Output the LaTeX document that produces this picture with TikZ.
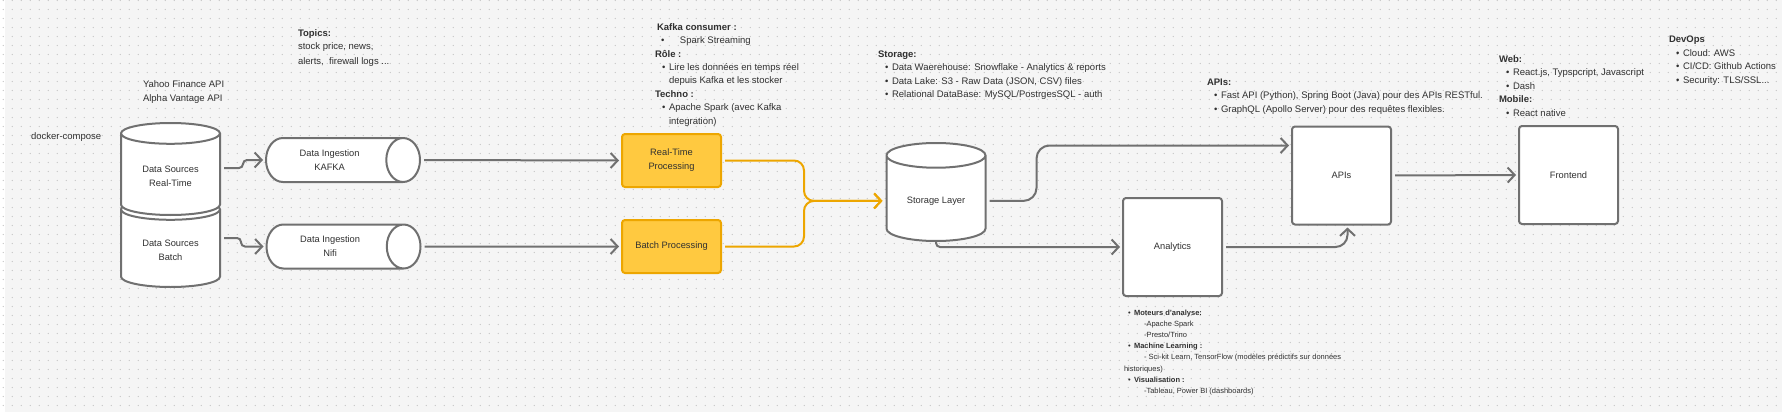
\documentclass[tikz,border=0pt]{standalone}
\usepackage{fontspec}
\setmainfont{Liberation Sans}
\usetikzlibrary{arrows.meta,shapes.geometric,calc}
\definecolor{canvas}{HTML}{F5F5F5}
\definecolor{dotgray}{HTML}{C2C2C2}
\definecolor{linegray}{HTML}{707070}
\definecolor{txt}{HTML}{303030}
\definecolor{procfill}{HTML}{FFC940}
\definecolor{procline}{HTML}{EDA600}
\newcommand\bul{\hspace*{7pt}\makebox[7pt][l]{•}}
\newcommand\sbul{\hspace*{4pt}\makebox[6pt][l]{•}}
\begin{document}
\begin{tikzpicture}[x=1pt,y=-1pt,->,>={Straight Barb[length=7pt,width=15pt]},
                    line width=2pt,text=txt,font=\fontsize{9.3}{14}\selectfont,
                    griddots/.style={-,draw=dotgray,line width=1.2pt,line cap=round,dash pattern=on 0pt off 9pt},
                    box/.style={draw=linegray,fill=white,rounded corners=3pt,minimum width=99pt,minimum height=98pt,align=center},
                    proc/.style={draw=procline,fill=procfill,rounded corners=3pt,minimum width=99pt,minimum height=53pt,align=center},
                    tank/.style={draw=linegray,fill=white,cylinder,shape border rotate=90,aspect=0.33,minimum width=99pt,
                                 anchor=shape center,align=center},
                    pipe/.style={draw=linegray,fill=white,cylinder,aspect=1.23,minimum width=44pt,minimum height=154pt,
                                 anchor=shape center,align=center},
                    link/.style={draw=linegray,shorten <=3pt,shorten >=2pt},
                    flow/.style={draw=procline,shorten <=3pt,shorten >=3pt,rounded corners=10pt},
                    note/.style={anchor=base west,align=left,inner sep=0pt,font=\fontsize{9.5}{13.5}\selectfont},
                    smallnote/.style={note,font=\fontsize{7.5}{11.1}\selectfont}]
    \useasboundingbox (0,0) rectangle (1782,412);
    \fill[canvas] (0,0) rectangle (1782,412);
    \fill[white] (0,0) rectangle (5,412);
    \foreach \r in {0,...,45}
        \draw[griddots] (3.3,9*\r+0.5) -- (1782,9*\r+0.5);

    \node[tank,minimum height=88pt] (dsbatch) at (170.5,243) {Data Sources\\Batch};
    \node[tank,minimum height=92pt] (dsrealtime) at (170.5,169) {Data Sources\\Real-Time};
    \node[pipe] (kafka) at (343,160) {Data Ingestion\\KAFKA};
    \node[pipe] (nifi) at (343.5,246.5) {Data Ingestion\\Nifi};
    \node[proc] (realtime) at (671.5,160.5) {Real-Time\\Processing};
    \node[proc] (batch) at (671.5,246.5) {Batch Processing};
    \node[tank,aspect=0.38,minimum height=98pt] (storage) at (936,192) {Storage Layer};
    \node[box] (analytics) at (1172.5,247) {Analytics};
    \node[box] (apis) at (1341.5,175.5) {APIs};
    \node[box] (frontend) at (1568.5,175) {Frontend};

    \draw[link,rounded corners=4pt] ($(dsrealtime.shape center -| dsrealtime.east)+(0,-1)$) -- ++(22,0) |- (kafka.west);
    \draw[link,rounded corners=4pt] ($(dsbatch.shape center -| dsbatch.east)+(0,-5)$) -- ++(20,0) |- (nifi.west);
    \draw[link] (kafka.east) -- (realtime.west);
    \draw[link] (nifi.east) -- (batch.west);
    \draw[flow] (realtime.east) -- ++(82,0) |- (storage.west);
    \draw[flow] (batch.east) -- ++(82,0) |- (storage.west);
    \draw[link,rounded corners=13pt] (storage.east) -- ++(50,0) |- ([yshift=30pt]apis.west);
    \draw[link,shorten <=0pt,rounded corners=4pt] (storage.south) |- (analytics.west);
    \draw[link,rounded corners=12pt] (analytics.east) -| ([xshift=6pt]apis.south);
    \draw[link] (apis.east) -- (frontend.west);

    \node[note] (compose) at (30,139) {docker-compose};
    \node[note] (apisources) at (142,101.5) {Yahoo Finance API\\Alpha Vantage API};
    \node[note,font=\fontsize{9.5}{14}\selectfont] (topics) at (297,64)
        {\textbf{Topics:}\\stock price, news,\\alerts,\ \ firewall logs ...};
    \node[note,font=\fontsize{9.5}{13.4}\selectfont] (consumer) at (654,124)
        {\hspace*{2pt}\textbf{Kafka consumer :}\\
         \hspace*{6pt}\makebox[19pt][l]{•}Spark Streaming\\
         \textbf{Rôle :}\\
         \bul Lire les données en temps réel\\
         \hspace*{14pt}depuis Kafka et les stocker\\
         \textbf{Techno :}\\
         \bul Apache Spark (avec Kafka\\
         \hspace*{14pt}integration)};
    \node[note,font=\fontsize{9.5}{13.6}\selectfont] (storagenote) at (877,97.8)
        {\textbf{Storage:}\\
         \bul Data Waerehouse: Snowflake - Analytics \& reports\\
         \bul Data Lake: S3 - Raw Data (JSON, CSV) files\\
         \bul Relational DataBase: MySQL/PostrgesSQL - auth};
    \node[note] (apisnote) at (1206,112)
        {\textbf{APIs:}\\
         \bul Fast API (Python), Spring Boot (Java) pour des APIs RESTful.\\
         \bul GraphQL (Apollo Server) pour des requêtes flexibles.};
    \node[note] (webnote) at (1498,116)
        {\textbf{Web:}\\
         \bul React.js, Typspcript, Javascript\\
         \bul Dash\\
         \textbf{Mobile:}\\
         \bul React native};
    \node[note] (devops) at (1668,83.5)
        {\textbf{DevOps}\\
         \bul Cloud: AWS\\
         \bul CI/CD: Github Actions\\
         \bul Security: TLS/SSL...};
    \node[smallnote] (analyticsnote) at (1123,393.2)
        {\sbul\textbf{Moteurs d'analyse:}\\
         \hspace*{20pt}-Apache Spark\\
         \hspace*{20pt}-Presto/Trino\\
         \sbul\textbf{Machine Learning :}\\
         \hspace*{20pt}- Sci-kit Learn, TensorFlow (modèles prédictifs sur données\\
         historiques)\\
         \sbul\textbf{Visualisation :}\\
         \hspace*{20pt}-Tableau, Power BI (dashboards)};
\end{tikzpicture}
\end{document}
